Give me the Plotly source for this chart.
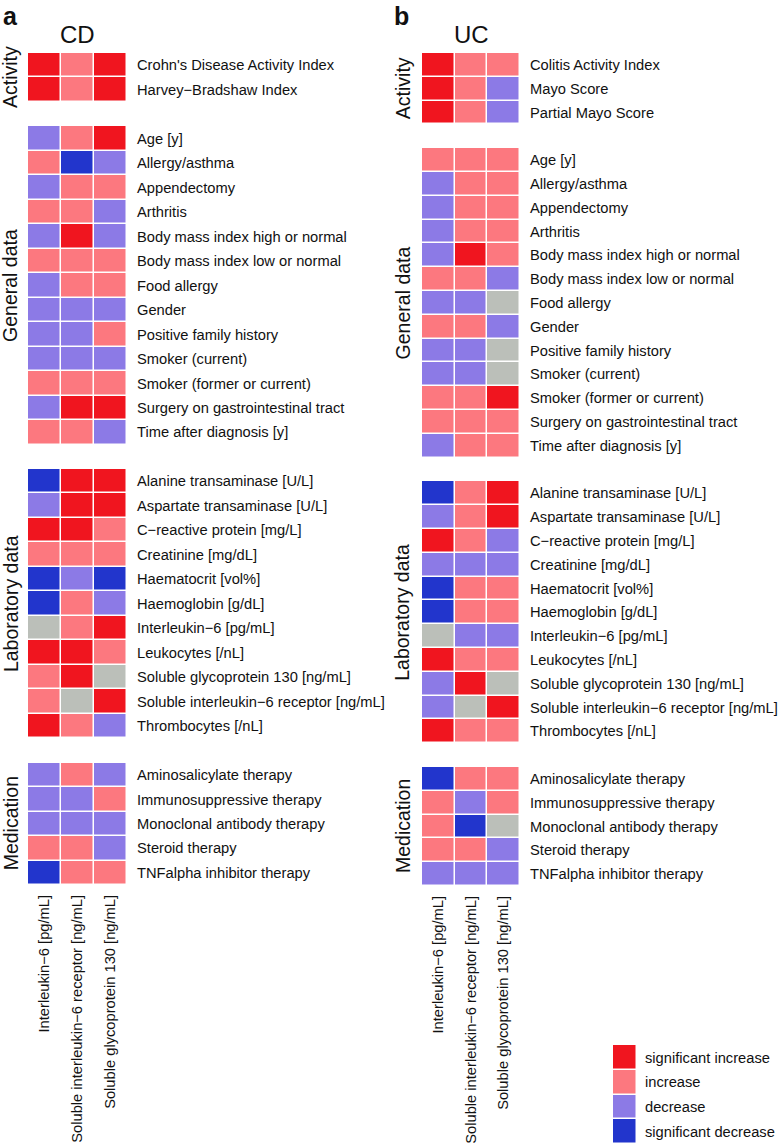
import plotly.graph_objects as go

# ---------------- data ----------------
# codes: 2 = significant increase, 1 = increase, -1 = decrease, -2 = significant decrease, 0 = not available
columns = ["Interleukin\u22126 [pg/mL]",
           "Soluble interleukin\u22126 receptor [ng/mL]",
           "Soluble glycoprotein 130 [ng/mL]"]

group_names = ["Activity", "General data", "Laboratory data", "Medication"]

cd_activity_rows = ["Crohn's Disease Activity Index", "Harvey\u2212Bradshaw Index"]
cd_activity_vals = [[2, 1, 2], [2, 1, 2]]

uc_activity_rows = ["Colitis Activity Index", "Mayo Score", "Partial Mayo Score"]
uc_activity_vals = [[2, 1, 1], [2, 1, -1], [2, 1, -1]]

general_rows = ["Age [y]", "Allergy/asthma", "Appendectomy", "Arthritis",
                "Body mass index high or normal", "Body mass index low or normal",
                "Food allergy", "Gender", "Positive family history", "Smoker (current)",
                "Smoker (former or current)", "Surgery on gastrointestinal tract",
                "Time after diagnosis [y]"]
cd_general_vals = [[-1, 1, 2], [1, -2, -1], [-1, 1, 1], [1, 1, -1], [-1, 2, -1],
                   [1, 1, 1], [-1, 1, 1], [-1, -1, -1], [-1, -1, 1], [-1, -1, -1],
                   [1, 1, 1], [-1, 2, 2], [1, 1, -1]]
uc_general_vals = [[1, 1, 1], [-1, 1, 1], [-1, 1, 1], [-1, 1, 1], [-1, 2, 1],
                   [1, 1, -1], [-1, -1, 0], [1, 1, -1], [-1, -1, 0], [-1, -1, 0],
                   [1, 1, 2], [1, 1, 1], [-1, 1, 1]]

lab_rows = ["Alanine transaminase [U/L]", "Aspartate transaminase [U/L]",
            "C\u2212reactive protein [mg/L]", "Creatinine [mg/dL]", "Haematocrit [vol%]",
            "Haemoglobin [g/dL]", "Interleukin\u22126 [pg/mL]", "Leukocytes [/nL]",
            "Soluble glycoprotein 130 [ng/mL]", "Soluble interleukin\u22126 receptor [ng/mL]",
            "Thrombocytes [/nL]"]
cd_lab_vals = [[-2, 2, 2], [-1, 2, 2], [2, 2, 1], [1, 1, 1], [-2, -1, -2], [-2, 1, -1],
               [0, 1, 2], [2, 2, 1], [1, 2, 0], [1, 0, 2], [2, 1, -1]]
uc_lab_vals = [[-2, 1, 2], [-1, 1, 2], [2, 1, -1], [-1, -1, -1], [-2, 1, 1], [-2, 1, 1],
               [0, -1, -1], [2, 1, 1], [-1, 2, 0], [-1, 0, 2], [2, 1, 1]]

med_rows = ["Aminosalicylate therapy", "Immunosuppressive therapy",
            "Monoclonal antibody therapy", "Steroid therapy", "TNFalpha inhibitor therapy"]
cd_med_vals = [[-1, 1, -1], [-1, -1, 1], [-1, -1, -1], [1, 1, -1], [-2, 1, 1]]
uc_med_vals = [[-2, 1, 1], [1, -1, 1], [1, -2, 0], [1, 1, -1], [-1, -1, -1]]

legend_labels = ["significant increase", "increase", "decrease", "significant decrease"]
legend_codes = [2, 1, -1, -2]

# ---------------- style ----------------
W, H = 780, 1145
FONT = "Liberation Sans, Arial, Helvetica, sans-serif"
TXT = "#111111"
C_SINC, C_INC, C_NA, C_DEC, C_SDEC = "#F0151F", "#FC787F", "#BBBFB9", "#8C7AE6", "#2235CC"
cscale = [[0, C_SDEC], [0.125, C_SDEC], [0.125, C_DEC], [0.375, C_DEC],
          [0.375, C_NA], [0.625, C_NA], [0.625, C_INC], [0.875, C_INC],
          [0.875, C_SINC], [1, C_SINC]]


def build(groups):
    z, tickvals, ticktext, centers = [], [], [], []
    for gi, (rows, vals) in enumerate(groups):
        if gi > 0:
            z.append([None, None, None])
        start = len(z)
        for r, v in zip(rows, vals):
            tickvals.append(len(z))
            ticktext.append(r)
            z.append(v)
        centers.append((start + len(z) - 1) / 2)
    return z, tickvals, ticktext, centers


cd = build([(cd_activity_rows, cd_activity_vals), (general_rows, cd_general_vals),
            (lab_rows, cd_lab_vals), (med_rows, cd_med_vals)])
uc = build([(uc_activity_rows, uc_activity_vals), (general_rows, uc_general_vals),
            (lab_rows, uc_lab_vals), (med_rows, uc_med_vals)])


def px_x(p):
    return p / W


def px_y(p):
    return 1 - p / H


fig = go.Figure()

panels = [
    dict(data=cd, xa="x", ya="y", xd=(28, 127), yd=(53, 885), title="CD", letter="a",
         letter_x=1, glabel_x=10.5),
    dict(data=uc, xa="x2", ya="y2", xd=(422, 520), yd=(53, 886), title="UC", letter="b",
         letter_x=392, glabel_x=402.5),
]

annotations = []
for i, p in enumerate(panels):
    z, tv, tt, centers = p["data"]
    fig.add_trace(go.Heatmap(z=z, x=list(range(3)), y=list(range(len(z))),
                             colorscale=cscale, zmin=-2, zmax=2, showscale=False,
                             xgap=1.5, ygap=1.5, hoverongaps=False,
                             xaxis=p["xa"], yaxis=p["ya"]))
    sfx = "" if i == 0 else str(i + 1)
    fig.update_layout(**{
        "xaxis" + sfx: dict(domain=[px_x(p["xd"][0]), px_x(p["xd"][1])], anchor=p["ya"],
                            range=[-0.5, 2.5], tickvals=[0, 1, 2], ticktext=columns,
                            tickangle=-90, showgrid=False, zeroline=False, ticks="",
                            ticklabelstandoff=6, showline=False,
                            tickfont=dict(size=14.7, color=TXT, family=FONT)),
        "yaxis" + sfx: dict(domain=[px_y(p["yd"][1]), px_y(p["yd"][0])], anchor=p["xa"],
                            range=[len(z) - 0.5, -0.5], tickvals=tv, ticktext=tt,
                            side="right", showgrid=False, zeroline=False, ticks="",
                            ticklabelstandoff=9, showline=False,
                            tickfont=dict(size=14.7, color=TXT, family=FONT)),
    })
    for g, c in zip(group_names, centers):
        annotations.append(dict(text=g, x=px_x(p["glabel_x"]), xref="paper", y=c,
                                yref=p["ya"], textangle=-90, showarrow=False,
                                xanchor="center", yanchor="middle",
                                font=dict(size=19.5, color=TXT, family=FONT)))
    annotations.append(dict(text=p["title"], x=px_x((p["xd"][0] + p["xd"][1]) / 2),
                            xref="paper", y=px_y(35), yref="paper", showarrow=False,
                            xanchor="center", yanchor="middle",
                            font=dict(size=24, color=TXT, family=FONT)))
    annotations.append(dict(text="<b>" + p["letter"] + "</b>", x=px_x(p["letter_x"]),
                            xref="paper", y=px_y(0), yref="paper", showarrow=False,
                            xanchor="left", yanchor="top",
                            font=dict(size=25, color=TXT, family=FONT)))

# legend drawn as a small heatmap
fig.add_trace(go.Heatmap(z=[[c] for c in legend_codes], x=[0],
                         y=list(range(len(legend_codes))),
                         colorscale=cscale, zmin=-2, zmax=2, showscale=False,
                         xgap=1.5, ygap=1.5, xaxis="x3", yaxis="y3"))
fig.update_layout(
    xaxis3=dict(domain=[px_x(613), px_x(637)], anchor="y3", range=[-0.5, 0.5],
                showticklabels=False, showgrid=False, zeroline=False, ticks=""),
    yaxis3=dict(domain=[px_y(1144), px_y(1045)], anchor="x3",
                range=[len(legend_codes) - 0.5, -0.5],
                tickvals=list(range(len(legend_codes))), ticktext=legend_labels,
                side="right", showgrid=False, zeroline=False, ticks="",
                ticklabelstandoff=7,
                tickfont=dict(size=14.7, color=TXT, family=FONT)),
)

fig.update_layout(width=W, height=H, margin=dict(l=0, r=0, t=0, b=0),
                  paper_bgcolor="white", plot_bgcolor="white",
                  showlegend=False, annotations=annotations,
                  font=dict(family=FONT, color=TXT))

fig.write_html("out.html", config={"displayModeBar": False},
               post_script="document.body.style.margin='0';")
